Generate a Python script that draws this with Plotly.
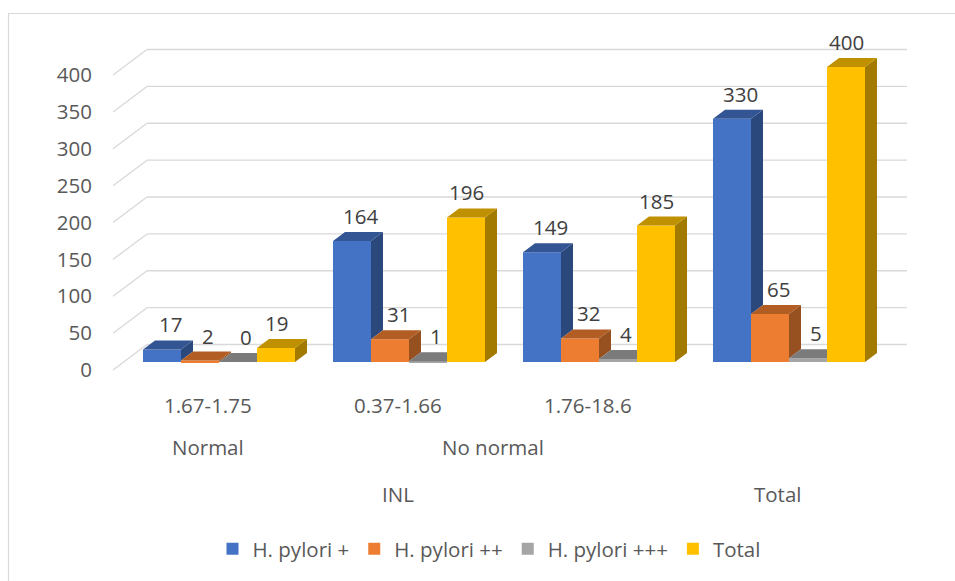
import plotly.graph_objects as go

# ---- data -------------------------------------------------------------
positions = [0, 1, 2, 3]
range_labels = ["1.67-1.75", "0.37-1.66", "1.76-18.6", ""]
# (text, first category index, last category index)
status_labels = [("Normal", 0, 0), ("No normal", 1, 2)]
group_labels = [("INL", 0, 2), ("Total", 3, 3)]

series_names = ["H. pylori +", "H. pylori ++", "H. pylori +++", "Total"]
hp_plus = [17, 164, 149, 330]
hp_plus2 = [2, 31, 32, 65]
hp_plus3 = [0, 1, 4, 5]
total = [19, 196, 185, 400]
series_values = [hp_plus, hp_plus2, hp_plus3, total]

y_ticks = [0, 50, 100, 150, 200, 250, 300, 350, 400]

# ---- style ------------------------------------------------------------
front_colors = ["#4472C4", "#ED7D31", "#A5A5A5", "#FFC000"]
TOP_SHADE, SIDE_SHADE = 0.75, 0.64
FONT = "Open Sans"
AXIS_TXT = "#595959"
LABEL_TXT = "#404040"
GRID = "#D9D9D9"

W, H = 955, 581
M_L, M_R, M_T, M_B = 105, 40, 30, 206
plot_w, plot_h = W - M_L - M_R, H - M_T - M_B
x_range = [-0.6, -0.6 + plot_w / 190.0]
y_range = [-17.6, 450.2]
px_per_x = plot_w / (x_range[1] - x_range[0])
px_per_y = plot_h / (y_range[1] - y_range[0])


def ux(px):
    return px / px_per_x


def uy(px):
    return px / px_per_y


def shade(hex_color, f):
    h = hex_color.lstrip("#")
    r, g, b = (int(h[i:i + 2], 16) for i in (0, 2, 4))
    return "#%02X%02X%02X" % (int(r * f), int(g * f), int(b * f))


BAR_DX, BAR_DY = ux(12), uy(9)          # depth of each bar
BACK_DX, BACK_DY = ux(23), uy(17.5)     # back wall relative to bar plane
FRONT_DX, FRONT_DY = ux(-11), uy(-8)    # front edge of side wall

n_series = len(series_values)
bar_w = 0.8 / n_series

fig = go.Figure()

# front faces
for name, vals, col in zip(series_names, series_values, front_colors):
    fig.add_trace(go.Bar(
        x=positions, y=vals, name=name, marker=dict(color=col, line=dict(width=0)),
        hoverinfo="skip"))

# top and right-side faces, hidden parts removed where the next bar is in front
tops = {i: ([], []) for i in range(n_series)}
sides = {i: ([], []) for i in range(n_series)}
for c in positions:
    for s in range(n_series):
        h = series_values[s][c]
        hn = series_values[s + 1][c] if s + 1 < n_series else None
        xl = c - 0.4 + s * bar_w
        xr = xl + bar_w
        A, B = (xl, h), (xr, h)
        C, D = (xr + BAR_DX, h + BAR_DY), (xl + BAR_DX, h + BAR_DY)
        if hn is None or hn <= h:
            poly = [A, B, C, D]
        elif hn >= h + BAR_DY:
            poly = [A, B, (xr, h + BAR_DY), D]
        else:
            s0 = (hn - h) / BAR_DY
            poly = [A, B, (xr, hn), (xr + s0 * BAR_DX, hn), C, D]
        tx, ty = tops[s]
        for px, py in poly + [poly[0]]:
            tx.append(px)
            ty.append(py)
        tx.append(None)
        ty.append(None)

        lo = 0 if hn is None else hn
        if h > lo:
            side = [(xr, lo), (xr + BAR_DX, lo + BAR_DY), (xr + BAR_DX, h + BAR_DY), (xr, h), (xr, lo)]
            sx, sy = sides[s]
            for px, py in side:
                sx.append(px)
                sy.append(py)
            sx.append(None)
            sy.append(None)

for s in range(n_series):
    for faces, f in ((sides, SIDE_SHADE), (tops, TOP_SHADE)):
        fx, fy = faces[s]
        if not fx:
            continue
        fig.add_trace(go.Scatter(
            x=fx, y=fy, mode="lines", fill="toself", line=dict(width=0, color=shade(front_colors[s], f)),
            fillcolor=shade(front_colors[s], f), hoverinfo="skip", showlegend=False))

# walls: back gridlines and the diagonal edges on the left side wall
shapes = []
x_left, x_right = x_range[0] + 0.1, positions[-1] + 0.5
for v in y_ticks:
    shapes.append(dict(type="line", xref="x", yref="y", layer="below",
                       x0=x_left + FRONT_DX, y0=v + FRONT_DY, x1=x_left + BACK_DX, y1=v + BACK_DY,
                       line=dict(color=GRID, width=1.3)))
    shapes.append(dict(type="line", xref="x", yref="y", layer="below",
                       x0=x_left + BACK_DX, y0=v + BACK_DY, x1=x_right + BACK_DX, y1=v + BACK_DY,
                       line=dict(color=GRID, width=1.3)))


def paper_x(px):
    return (px - M_L) / plot_w


def paper_y(py):
    return (H - M_B - py) / plot_h


# chart border
shapes.append(dict(type="rect", xref="paper", yref="paper", layer="below",
                   x0=paper_x(8.5), x1=paper_x(W + 20), y0=paper_y(13.5), y1=paper_y(H + 20),
                   line=dict(color=GRID, width=1.2), fillcolor="rgba(0,0,0,0)"))

annotations = []
# value labels above each bar
label_xshift = [8, 8, 8, 0]
for s in range(n_series):
    for c in positions:
        v = series_values[s][c]
        xc = c - 0.4 + (s + 0.5) * bar_w
        annotations.append(dict(x=xc, y=v, xref="x", yref="y", text=str(v), showarrow=False,
                                xshift=label_xshift[s], yshift=25, yanchor="middle",
                                font=dict(family=FONT, size=20.5, color=LABEL_TXT)))

# multi-level category labels
x_front = FRONT_DX
for c, t in zip(positions, range_labels):
    if t:
        annotations.append(dict(x=c + x_front, y=0, xref="x", yref="y", text=t, showarrow=False,
                                yshift=-43, yanchor="middle",
                                font=dict(family=FONT, size=20.5, color=AXIS_TXT)))
for row, yshift in ((status_labels, -85), (group_labels, -132)):
    for t, a, b in row:
        annotations.append(dict(x=(a + b) / 2 + x_front, y=0, xref="x", yref="y", text=t,
                                showarrow=False, yshift=yshift, yanchor="middle",
                                font=dict(family=FONT, size=20.5, color=AXIS_TXT)))

fig.update_layout(
    width=W, height=H,
    margin=dict(l=M_L, r=M_R, t=M_T, b=M_B, pad=0),
    paper_bgcolor="white", plot_bgcolor="white",
    barmode="group", bargap=0.2, bargroupgap=0,
    font=dict(family=FONT, color=AXIS_TXT, size=20.5),
    xaxis=dict(range=x_range, showticklabels=False, showgrid=False, zeroline=False,
               showline=False, ticks="", fixedrange=True),
    yaxis=dict(range=y_range, tickmode="array", tickvals=y_ticks, showgrid=False, zeroline=False,
               showline=False, ticks="", ticklabelshift=8, ticklabelstandoff=12,
               tickfont=dict(family=FONT, size=20.5, color=AXIS_TXT), fixedrange=True),
    legend=dict(orientation="h", x=paper_x(489), xanchor="center", y=paper_y(549), yanchor="middle",
                font=dict(family=FONT, size=20.5, color=AXIS_TXT), bgcolor="rgba(0,0,0,0)",
                itemclick=False, traceorder="normal"),
    shapes=shapes,
    annotations=annotations,
)

fig.write_html("out.html")
